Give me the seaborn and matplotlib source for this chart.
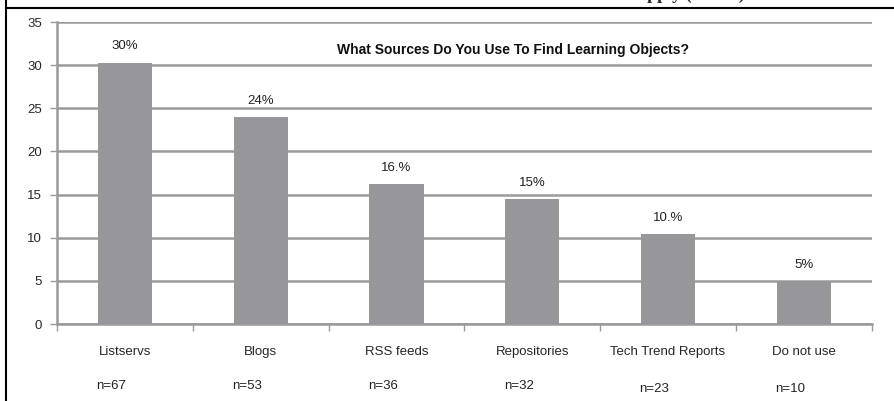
import numpy as np
import pandas as pd
import matplotlib
matplotlib.use("Agg")
import matplotlib.pyplot as plt
import seaborn as sns
from matplotlib.ticker import FixedLocator
from matplotlib.lines import Line2D

# -----------------------------
# DATA
# -----------------------------
sources = ["Listservs", "Blogs", "RSS feeds", "Repositories", "Tech Trend Reports", "Do not use"]
percent = [30.3, 24.0, 16.2, 14.5, 10.4, 5.0]
pct_labels = ["30%", "24%", "16.%", "15%", "10.%", "5%"]
n_labels = ["n=67", "n=53", "n=36", "n=32", "n=23", "n=10"]

df = pd.DataFrame({"source": sources, "percent": percent})

sns.set_style("white")
plt.rcParams['font.family'] = ['Liberation Sans', 'DejaVu Sans']

fig = plt.figure(figsize=(8.95, 4.01), dpi=100)
ax = fig.add_axes([0.0637, 0.192, 0.974 - 0.0637, 0.945 - 0.192])

sns.barplot(data=df, x="source", y="percent", color="#97979b", width=0.4,
            saturation=1, linewidth=0, ax=ax, zorder=3)

ax.set_xlim(-0.5, 5.5)
ax.set_ylim(0, 35)
ax.set_yticks(range(0, 36, 5))
ax.yaxis.grid(True, color="#9a9a9a", linewidth=1.8, zorder=0)
ax.set_axisbelow(True)

for side in ["top", "right"]:
    ax.spines[side].set_visible(False)
ax.spines["left"].set_color("#9a9a9a")
ax.spines["left"].set_linewidth(1.8)
ax.spines["bottom"].set_color("#9a9a9a")
ax.spines["bottom"].set_linewidth(1.8)

ax.tick_params(axis="y", length=5, width=1, color="#9a9a9a", labelsize=9.5, pad=6, left=True)
ax.tick_params(axis="x", which="major", length=0, labelsize=9.5, pad=16)
ax.xaxis.set_minor_locator(FixedLocator(np.arange(-0.5, 6, 1)))
ax.tick_params(axis="x", which="minor", length=5, width=1, color="#9a9a9a", bottom=True)
ax.set_xlabel("")
ax.set_ylabel("")

# percent labels over bars
for i, (v, lab) in enumerate(zip(percent, pct_labels)):
    ax.text(i, v + 1.2, lab, ha="center", va="bottom", fontsize=9.5, color="#222222")

# n counts under category labels
trans = matplotlib.transforms.blended_transform_factory(ax.transData, ax.transAxes)
n_y = [-0.205, -0.205, -0.205, -0.205, -0.215, -0.215]
for i, (lab, yy) in enumerate(zip(n_labels, n_y)):
    ax.text(i - 0.1, yy, lab, ha="center", va="center", fontsize=9.5,
            color="#222222", transform=trans)

ax.text(0.56, 0.907, "What Sources Do You Use To Find Learning Objects?",
        transform=ax.transAxes, ha="center", va="center",
        fontsize=10, fontweight="bold", color="#111111")

# page frame from the source document (heading above is cut off by the crop)
fig.add_artist(Line2D([0.0067, 1.0], [0.980, 0.980], color="black", linewidth=1.5))
fig.add_artist(Line2D([0.0067, 0.0067], [0.0, 1.0], color="black", linewidth=1.5))
fig.text(0.832, 1.003, "Check All That Apply (n=177)", ha="right", va="baseline",
         fontsize=13, fontweight="bold", family="Liberation Serif")

fig.savefig("out.png", dpi=100)
